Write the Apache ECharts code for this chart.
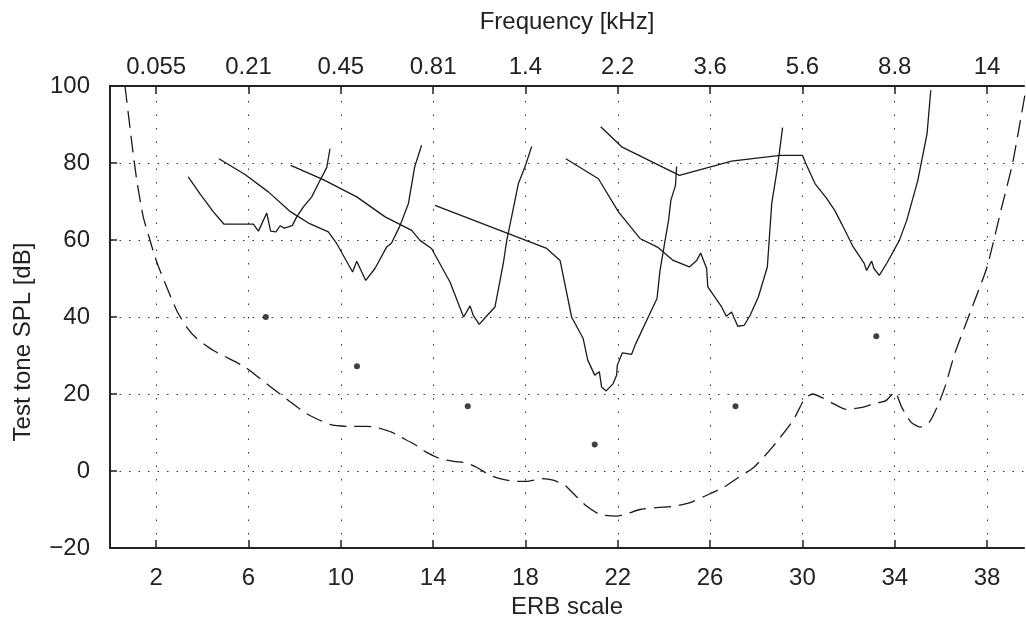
<!DOCTYPE html>
<html>
<head>
<meta charset="utf-8">
<script src="https://cdn.jsdelivr.net/npm/echarts@6/dist/echarts.min.js"></script>
<style>
html,body{margin:0;padding:0;background:#fff;}
#chart{width:1026px;height:624px;}
</style>
</head>
<body>
<div id="chart"></div>
<script>
// ERB tick positions and labels
const erbTicks = [2, 6, 10, 14, 18, 22, 26, 30, 34, 38];
const freqLabels = ['0.055', '0.21', '0.45', '0.81', '1.4', '2.2', '3.6', '5.6', '8.8', '14'];
const splTicks = [0, 20, 40, 60, 80];

// Psychophysical tuning curves: [ERB, dB]
const curve1 = [[3.39,76.4],[3.9,72.0],[4.48,67.3],[4.94,64.1],[6.21,64.1],[6.43,62.3],[6.79,67.0],[6.96,62.3],[7.19,62.1],[7.37,63.7],[7.55,63.1],[7.73,63.4],[7.9,63.8],[8.09,66.0],[8.38,68.6],[8.74,71.2],[9.1,75.5],[9.39,78.8],[9.53,83.7]];
const curve2 = [[4.72,81.1],[5.85,77.0],[6.86,72.5],[7.83,67.3],[8.6,64.4],[9.46,62.1],[9.82,59.1],[10.51,51.7],[10.69,54.5],[11.08,49.5],[11.48,52.6],[11.99,58.2],[12.2,59.2],[12.57,63.8],[12.93,69.5],[13.2,79.0],[13.5,84.6]];
const curve3 = [[7.83,79.4],[9.24,75.7],[10.69,71.2],[11.92,66.0],[13.07,62.5],[13.43,59.9],[13.93,57.8],[14.73,49.1],[15.32,40.0],[15.6,42.9],[15.74,40.4],[16.0,38.1],[16.25,39.8],[16.68,42.6],[17.04,53.9],[17.19,59.9],[17.4,66.0],[17.69,74.6],[17.98,79.0],[18.27,84.3]];
const curve4 = [[14.08,69.0],[18.92,57.8],[19.5,54.7],[20.0,40.0],[20.5,34.4],[20.7,28.8],[21.0,24.9],[21.2,25.8],[21.3,21.8],[21.5,20.8],[21.8,22.7],[21.95,24.9],[21.98,27.5],[22.2,30.7],[22.6,30.3],[22.75,32.7],[23.25,39.1],[23.7,44.8],[23.83,52.1],[24.05,59.9],[24.2,65.1],[24.3,70.3],[24.5,74.2],[24.55,79.1]];
const curve5 = [[19.75,81.1],[21.16,75.9],[22.03,67.3],[22.96,60.4],[23.76,58.0],[24.4,54.7],[25.1,53.0],[25.42,54.7],[25.59,56.6],[25.85,52.6],[25.9,47.8],[26.5,42.6],[26.7,40.2],[26.93,41.3],[27.2,37.6],[27.47,37.8],[27.73,40.4],[28.09,45.2],[28.48,53.0],[28.67,69.5],[28.9,78.1],[29.14,89.2]];
const curve6 = [[21.26,89.4],[22.17,84.2],[24.67,76.8],[26.93,80.5],[29.03,82.0],[30.0,82.0],[30.18,79.4],[30.55,74.6],[31.05,70.8],[31.4,67.7],[31.7,64.2],[32.2,58.2],[32.67,54.0],[32.78,52.1],[33.0,54.5],[33.1,52.6],[33.33,50.8],[33.65,53.9],[34.2,59.9],[34.52,65.1],[35.0,75.5],[35.4,87.6],[35.56,98.9]];

// Absolute threshold (dashed)
const threshold = [[0.65,100],[0.94,85.5],[1.16,75.5],[1.44,66],[1.73,60],[1.95,55.6],[2.17,52],[2.89,41.7],[3.32,37.4],[3.76,34.4],[4.48,31.3],[5.85,27],[6.5,24],[7.8,18],[8.52,14.9],[9.53,12.1],[10.3,11.6],[11.1,11.6],[11.55,11.3],[12.2,10.1],[12.6,8.8],[13.2,6.9],[13.7,4.9],[14.3,3.2],[14.9,2.5],[15.45,2.1],[15.9,0.9],[16.4,-0.9],[16.9,-2.0],[17.6,-2.7],[18.05,-2.7],[18.7,-2.0],[19.2,-2.4],[19.7,-3.7],[20.15,-6.3],[20.6,-8.9],[21.23,-11.3],[21.95,-11.7],[22.4,-11.1],[22.96,-10.0],[23.7,-9.5],[24.4,-9.2],[25.1,-8.3],[26.0,-5.9],[26.6,-4.2],[27.15,-2.0],[27.9,1.0],[28.7,6.2],[29.6,13.2],[30.1,18.8],[30.45,20.0],[30.8,19.2],[31.4,17.3],[31.9,16.0],[32.6,16.5],[33.1,17.5],[33.6,18.2],[34.0,20.5],[34.3,16.6],[34.7,12.7],[35.1,11.4],[35.5,12.7],[35.9,17.5],[36.2,22.3],[36.6,30.5],[37.3,41.7],[38.0,53],[38.6,67.7],[39.1,79.8],[39.6,96.3],[39.75,101]];

// Probe tones
const probes = [[6.75,40],[10.7,27.2],[15.5,16.8],[21.0,6.9],[27.1,16.8],[33.2,35.0]];

const FONT = '"Liberation Sans", Arial, Helvetica, sans-serif';
const FS = 24;
const chart = echarts.init(document.getElementById('chart'), null, {renderer: 'canvas'});

function curveSeries(data) {
  return {
    type: 'line', data: data, xAxisIndex: 0, yAxisIndex: 0,
    symbol: 'none', clip: true,
    lineStyle: {color: '#1a1a1a', width: 1.3},
    z: 5
  };
}

const option = {
  backgroundColor: '#fff',
  animation: false,
  textStyle: {fontFamily: FONT},
  grid: {left: 110, right: 2, top: 86, bottom: 76, containLabel: false},
  xAxis: [
    {
      type: 'value', position: 'bottom', min: 0, max: 39.6,
      name: 'ERB scale', nameLocation: 'middle', nameGap: 46,
      nameTextStyle: {fontSize: FS, color: '#222', fontFamily: FONT},
      axisLine: {show: true, onZero: false, lineStyle: {color: '#222', width: 2}},
      axisTick: {show: true, inside: true, length: 8, customValues: erbTicks, lineStyle: {color: '#222', width: 1.5}},
      axisLabel: {show: true, customValues: erbTicks, margin: 18, fontSize: FS, color: '#222', fontFamily: FONT},
      splitLine: {show: false}
    },
    {
      type: 'value', position: 'top', min: 0, max: 39.6,
      name: 'Frequency [kHz]', nameLocation: 'middle', nameGap: 52,
      nameTextStyle: {fontSize: FS, color: '#222', fontFamily: FONT},
      axisLine: {show: true, onZero: false, lineStyle: {color: '#222', width: 2}},
      axisTick: {show: true, inside: true, length: 8, customValues: erbTicks, lineStyle: {color: '#222', width: 1.5}},
      axisLabel: {
        show: true, customValues: erbTicks, margin: 7, fontSize: FS, color: '#222', fontFamily: FONT,
        formatter: function (v) {
          const i = erbTicks.indexOf(v);
          return i >= 0 ? freqLabels[i] : '';
        }
      },
      splitLine: {show: false}
    }
  ],
  yAxis: [
    {
      type: 'value', min: -20, max: 100, interval: 20,
      name: 'Test tone SPL [dB]', nameLocation: 'middle', nameGap: 75, nameRotate: 90,
      nameTextStyle: {fontSize: FS, color: '#222', fontFamily: FONT, padding: [0, 50, 0, 0]},
      axisLine: {show: true, onZero: false, lineStyle: {color: '#222', width: 2}},
      axisTick: {show: true, inside: true, length: 7, lineStyle: {color: '#222', width: 1.5}},
      axisLabel: {
        margin: 20, fontSize: FS, color: '#222', fontFamily: FONT,
        formatter: function (v) { return v < 0 ? '\u2212' + Math.abs(v) : String(v); }
      },
      splitLine: {show: true, lineStyle: {color: '#333', width: 1, type: [1.5, 8]}}
    }
  ],
  series: [
    {
      type: 'line', data: [], xAxisIndex: 0, yAxisIndex: 0, symbol: 'none',
      markLine: {
        silent: true, symbol: ['none', 'none'], label: {show: false},
        lineStyle: {color: '#333', width: 1, type: [1.5, 12]},
        data: erbTicks.map(function (v) { return {xAxis: v}; })
      },
      z: 1
    },
    curveSeries(curve1),
    curveSeries(curve2),
    curveSeries(curve3),
    curveSeries(curve4),
    curveSeries(curve5),
    curveSeries(curve6),
    {
      type: 'line', data: threshold, xAxisIndex: 0, yAxisIndex: 0,
      symbol: 'none', clip: true, smooth: 0.2,
      lineStyle: {color: '#1a1a1a', width: 1.3, type: [17, 8]},
      z: 4
    },
    {
      type: 'scatter', data: probes, xAxisIndex: 0, yAxisIndex: 0,
      symbol: 'circle', symbolSize: 6,
      itemStyle: {color: '#111'},
      z: 6
    }
  ]
};
chart.setOption(option);
</script>
</body>
</html>
